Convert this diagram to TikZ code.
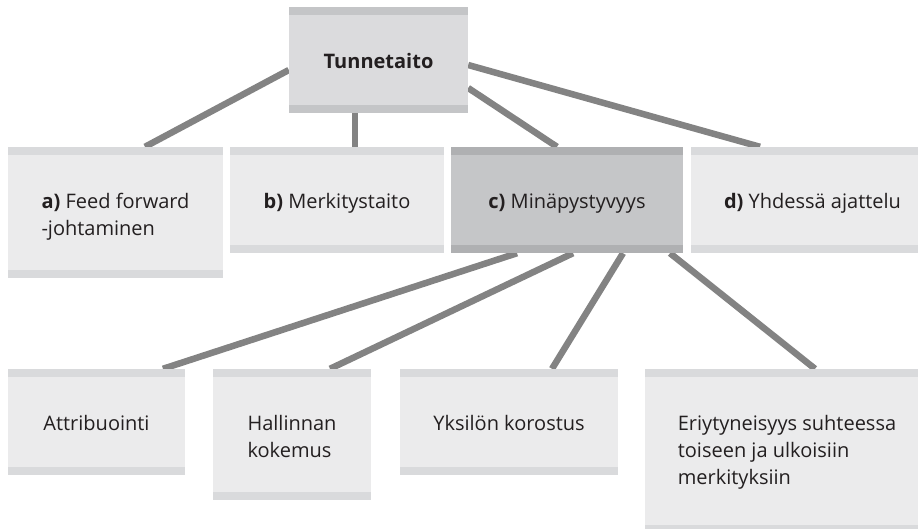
\documentclass[tikz,border=0pt]{standalone}
\usepackage{fontspec}
\setmainfont{Open Sans}
\usepackage{xcolor}
\usepackage{tikz}
\usetikzlibrary{
  positioning,
  backgrounds
}
\definecolor{paleFill}{HTML}{EBEBEC}
\definecolor{paleBand}{HTML}{D9DADC}
\definecolor{midFill}{HTML}{DBDBDD}
\definecolor{midBand}{HTML}{C4C5C7}
\definecolor{darkFill}{HTML}{C5C6C8}
\definecolor{darkBand}{HTML}{AFB0B2}
\definecolor{linkGray}{HTML}{838383}
\definecolor{inkTxt}{HTML}{231F20}
\tikzset{
  band/.style={
    path picture={
      \fill[#1] (path picture bounding box.north west)
        rectangle ([yshift=-8pt]path picture bounding box.north east);
      \fill[#1] (path picture bounding box.south west)
        rectangle ([yshift=8pt]path picture bounding box.south east);
    }
  },
  base/.style={
    rectangle, draw=none, inner sep=0pt
  },
  pale nd/.style={base, fill=paleFill, band=paleBand},
  mid nd/.style={base, fill=midFill, band=midBand},
  dark nd/.style={base, fill=darkFill, band=darkBand},
  txt/.style={
    anchor=north, align=left, inner sep=0pt, text=inkTxt,
    font=\fontsize{20}{27}\selectfont
  },
  lnk/.style={line width=6.5pt, color=linkGray}
}
\begin{document}
\begin{tikzpicture}[x=1pt, y=-1pt]
  \useasboundingbox (0,0) rectangle (918,528);

  % top
  \node[mid nd, minimum width=179pt, minimum height=106pt] (tun) at (378.5,60) {};
  \node[txt] (tunT) at ([yshift=-42.5pt]tun.north) {\strut\textbf{Tunnetaito}};

  % second row
  \node[pale nd, minimum width=215pt, minimum height=131pt] (a) at (115.5,212.5) {};
  \node[pale nd, minimum width=214pt, minimum height=106pt] (b) at (337,200) {};
  \node[dark nd, minimum width=232pt, minimum height=106pt] (c) at (567,200) {};
  \node[pale nd, minimum width=243pt, minimum height=106pt] (d) at (812.5,200) {};

  \node[txt] (aT) at ([yshift=-43pt]a.north) {\strut\textbf{a)} Feed forward\\-johtaminen};
  \node[txt] (bT) at ([yshift=-43pt]b.north) {\strut\textbf{b)} Merkitystaito};
  \node[txt] (cT) at ([yshift=-43pt]c.north) {\strut\textbf{c)} Minäpystyvyys};
  \node[txt] (dT) at ([yshift=-43pt]d.north) {\strut\textbf{d)} Yhdessä ajattelu};

  % third row
  \node[pale nd, minimum width=177pt, minimum height=106pt] (att) at (96.5,422) {};
  \node[pale nd, minimum width=158pt, minimum height=131pt] (hal) at (292,434.5) {};
  \node[pale nd, minimum width=218pt, minimum height=106pt] (yks) at (509,422) {};
  \node[pale nd, minimum width=284pt, minimum height=164pt] (eri) at (787,451) {};

  \node[txt] (attT) at ([yshift=-42.5pt]att.north) {\strut Attribuointi};
  \node[txt] (halT) at ([yshift=-42.5pt]hal.north) {\strut Hallinnan\\kokemus};
  \node[txt] (yksT) at ([yshift=-42.5pt]yks.north) {\strut Yksilön korostus};
  \node[txt] (eriT) at ([yshift=-42.5pt]eri.north)
    {\strut Eriytyneisyys suhteessa\\toiseen ja ulkoisiin\\merkityksiin};

  \begin{scope}[on background layer]
    \draw[lnk] ([yshift=-10pt]tun.west) -- ([xshift=29.5pt]a.north);
    \draw[lnk] ([xshift=-23.5pt]tun.south) -- ([xshift=18pt]b.north);
    \draw[lnk] ([yshift=-28pt]tun.east) -- ([xshift=-10pt]c.north);
    \draw[lnk] ([yshift=-5pt]tun.east) -- ([xshift=-52.5pt]d.north);

    \draw[lnk] ([xshift=-50pt]c.south) -- ([xshift=66.5pt]att.north);
    \draw[lnk] ([xshift=6pt]c.south) -- ([xshift=38pt]hal.north);
    \draw[lnk] ([xshift=56pt]c.south) -- ([xshift=43pt]yks.north);
    \draw[lnk] ([xshift=103pt]c.south) -- ([xshift=28pt]eri.north);
  \end{scope}
\end{tikzpicture}
\end{document}
